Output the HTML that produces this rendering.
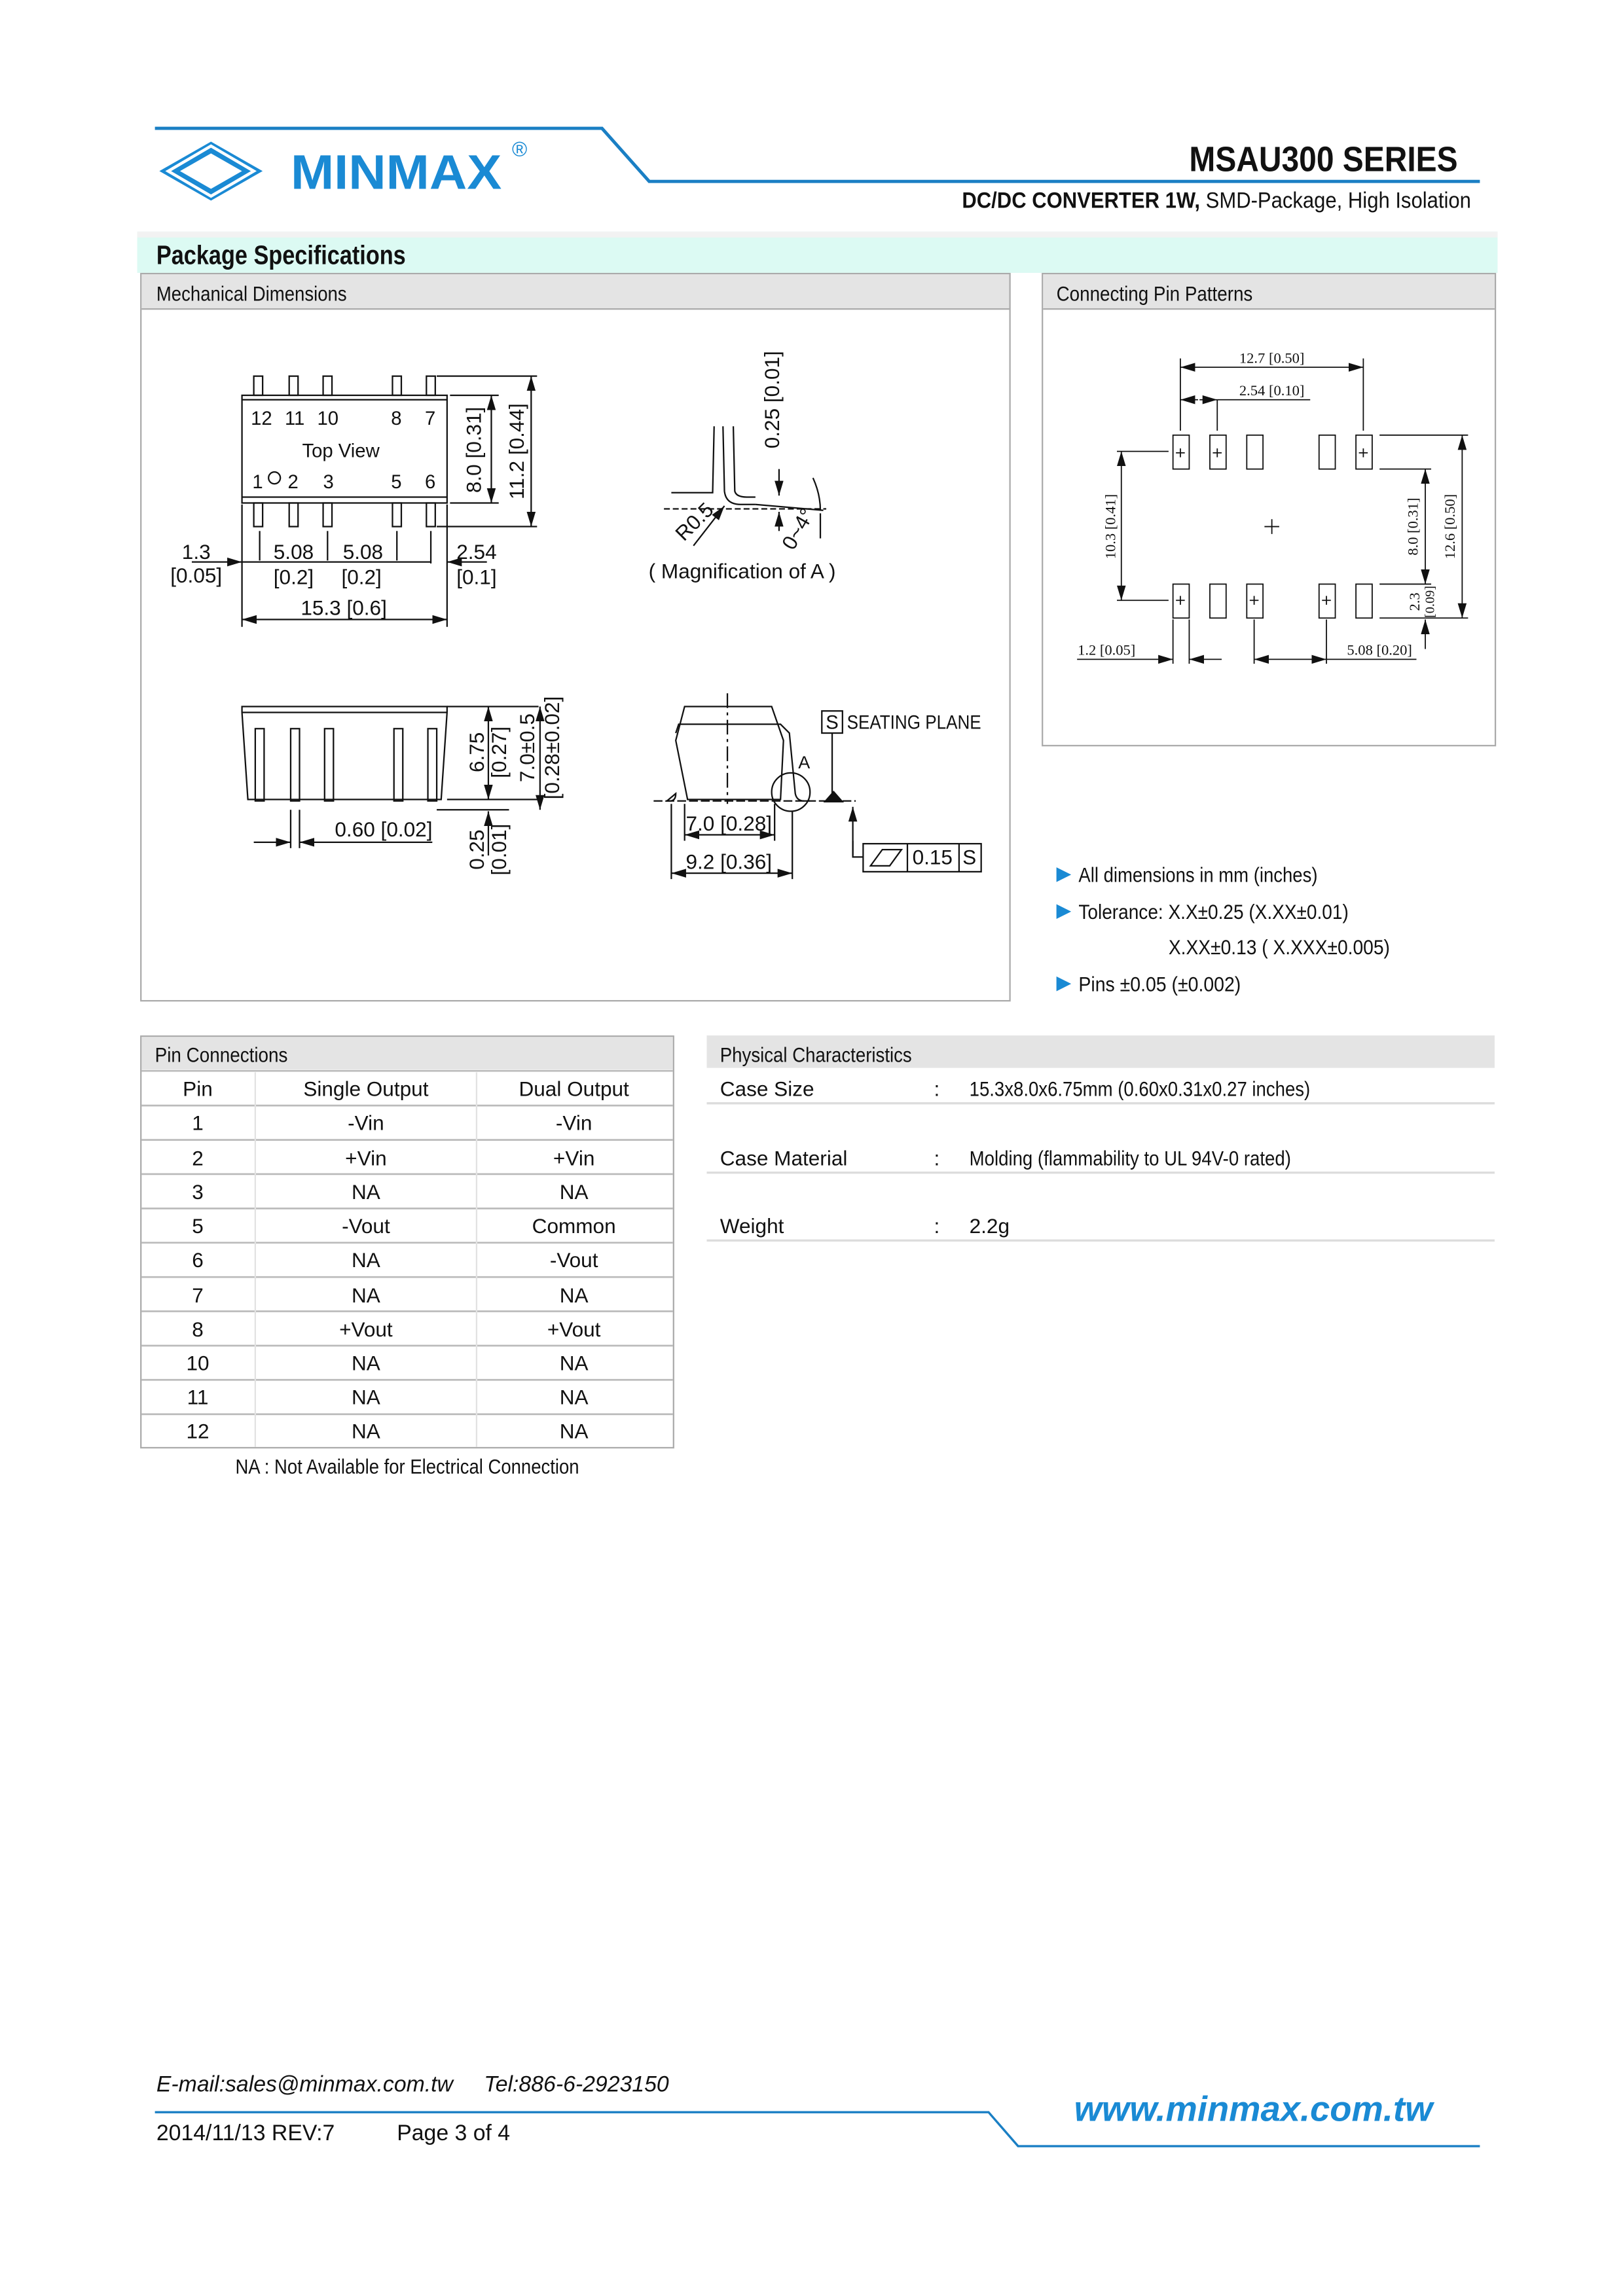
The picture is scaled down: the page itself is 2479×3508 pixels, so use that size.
<!DOCTYPE html>
<html><head><meta charset="utf-8"><style>
html,body{margin:0;padding:0;background:#fff}
svg{display:block}
text{font-family:"Liberation Sans",sans-serif;fill:#111}
</style></head><body>
<svg width="2479" height="3508" viewBox="0 0 1100 1556.6" preserveAspectRatio="none" xmlns="http://www.w3.org/2000/svg">
<defs>
<marker id="a" viewBox="0 0 10 6" refX="10" refY="3" markerWidth="10" markerHeight="6" orient="auto-start-reverse" markerUnits="userSpaceOnUse"><path d="M0,0L10,3L0,6z" fill="#111"/></marker>
</defs>
<!-- header -->
<polyline points="105,87 408,87 440,123 1003,123" fill="none" stroke="#1a7fc4" stroke-width="2.2"/>
<g fill="#1a8ad4">
<path d="M108,116 L143,96 L178,116 L143,136 Z M122,116 L143,104 L164,116 L143,128 Z" fill-rule="evenodd"/>
<path d="M114,116 L143,99 L172,116 L143,133Z" fill="none" stroke="#fff" stroke-width="2"/>
</g>
<text x="197" y="128" font-size="33" font-weight="bold" style="fill:#1a8ad4" textLength="143" lengthAdjust="spacingAndGlyphs">MINMAX</text>
<text x="347" y="106" font-size="14" style="fill:#1a8ad4">®</text>
<text x="988" y="116" font-size="24" font-weight="bold" text-anchor="end" textLength="182" lengthAdjust="spacingAndGlyphs">MSAU300 SERIES</text>
<text x="997" y="141" font-size="15" text-anchor="end" textLength="345" lengthAdjust="spacingAndGlyphs"><tspan font-weight="bold">DC/DC CONVERTER 1W,</tspan> SMD-Package, High Isolation</text>
<!-- package band -->
<rect x="93" y="157" width="922" height="28" fill="#dcfaf3"/>
<rect x="93" y="157" width="922" height="4" fill="#f2f2f2"/>
<text x="106" y="179" font-size="18" font-weight="bold" textLength="169" lengthAdjust="spacingAndGlyphs">Package Specifications</text>
<!-- panels -->
<rect x="95.5" y="185.5" width="589" height="493" fill="#fff" stroke="#aaa"/>
<rect x="96" y="186" width="588" height="23" fill="#e4e4e4"/>
<line x1="96" y1="209.5" x2="684" y2="209.5" stroke="#aaa"/>
<text x="106" y="204" font-size="14" textLength="129" lengthAdjust="spacingAndGlyphs">Mechanical Dimensions</text>
<rect x="706.5" y="185.5" width="307" height="320" fill="#fff" stroke="#aaa"/>
<rect x="707" y="186" width="306" height="23" fill="#e4e4e4"/>
<line x1="707" y1="209.5" x2="1013" y2="209.5" stroke="#aaa"/>
<text x="716" y="204" font-size="14" textLength="133" lengthAdjust="spacingAndGlyphs">Connecting Pin Patterns</text>

<g stroke="#111" stroke-width="1" fill="none">
<!-- top view -->
<rect x="164" y="268" width="139" height="73"/>
<line x1="164" y1="271" x2="303" y2="271"/><line x1="164" y1="337" x2="303" y2="337"/>
<rect x="172" y="255" width="6" height="13"/><rect x="196" y="255" width="6" height="13"/><rect x="219" y="255" width="6" height="13"/><rect x="266" y="255" width="6" height="13"/><rect x="289" y="255" width="6" height="13"/>
<rect x="172" y="341" width="6" height="16"/><rect x="196" y="341" width="6" height="16"/><rect x="219" y="341" width="6" height="16"/><rect x="266" y="341" width="6" height="16"/><rect x="289" y="341" width="6" height="16"/>
<circle cx="186" cy="324" r="4"/>
<line x1="305" y1="268" x2="338" y2="268"/><line x1="305" y1="341" x2="338" y2="341"/>
<line x1="296" y1="255" x2="364" y2="255"/><line x1="296" y1="357" x2="364" y2="357"/>
<line x1="333" y1="268" x2="333" y2="341" marker-start="url(#a)" marker-end="url(#a)"/>
<line x1="360" y1="255" x2="360" y2="357" marker-start="url(#a)" marker-end="url(#a)"/>
<line x1="164" y1="342" x2="164" y2="425"/><line x1="303" y1="342" x2="303" y2="425"/>
<line x1="176" y1="360" x2="176" y2="380"/><line x1="222" y1="360" x2="222" y2="380"/><line x1="269" y1="360" x2="269" y2="380"/><line x1="292" y1="360" x2="292" y2="382"/>
<line x1="130" y1="381" x2="164" y2="381" marker-end="url(#a)"/>
<line x1="164" y1="381" x2="292" y2="381"/>
<line x1="330" y1="381" x2="303" y2="381" marker-end="url(#a)"/>
<line x1="164" y1="420" x2="303" y2="420" marker-start="url(#a)" marker-end="url(#a)"/>
<!-- magnification -->
<polyline points="455,334 483,334 484,289"/>
<path d="M490,289 L491,333 Q492,342 502,342 L512,342"/>
<path d="M497,289 L498,333 Q499,337 506,337 L512,337"/>
<line x1="512" y1="342" x2="558" y2="346"/>
<line x1="450" y1="345" x2="560" y2="345" stroke-dasharray="4,2"/>
<line x1="528" y1="318" x2="528" y2="336" marker-end="url(#a)"/>
<line x1="528" y1="360" x2="528" y2="347" marker-end="url(#a)"/>
<line x1="470" y1="370" x2="491" y2="343" marker-end="url(#a)"/>
<path d="M551,324 Q556,335 556,346"/>
<line x1="556" y1="365" x2="556" y2="348"/>
<!-- side view -->
<path d="M164,479 L303,479 L303,483 L299,542 L168,542 L164,483 Z"/>
<line x1="164" y1="483" x2="303" y2="483"/>
<rect x="173" y="494" width="6" height="49"/><rect x="197" y="494" width="6" height="49"/><rect x="220" y="494" width="6" height="49"/><rect x="267" y="494" width="6" height="49"/><rect x="290" y="494" width="6" height="49"/>
<line x1="303" y1="479" x2="365" y2="479"/><line x1="303" y1="542" x2="365" y2="542"/>
<line x1="296" y1="549" x2="345" y2="549"/>
<line x1="331" y1="479" x2="331" y2="542" marker-start="url(#a)" marker-end="url(#a)"/>
<line x1="366" y1="479" x2="366" y2="549" marker-start="url(#a)" marker-end="url(#a)"/>
<line x1="331" y1="580" x2="331" y2="550" marker-end="url(#a)"/>
<line x1="197" y1="549" x2="197" y2="575"/><line x1="203" y1="549" x2="203" y2="575"/>
<line x1="172" y1="571" x2="197" y2="571" marker-end="url(#a)"/>
<line x1="293" y1="571" x2="203" y2="571" marker-end="url(#a)"/>
<!-- end view -->
<path d="M464,479 L523,479 L531,502 L529,542 L466,542 L458,502 Z"/>
<path d="M458,497 L460,491 L529,491 L535,497 L539,538 Q540,543 545,543 L549,543 M452,543 L454,543 Q458,543 458,538 Z" />
<line x1="493" y1="470" x2="493" y2="545" stroke-dasharray="10,3,2,3"/>
<line x1="443" y1="543" x2="580" y2="543" stroke-dasharray="6,2"/>
<circle cx="536" cy="537" r="13"/>
<line x1="564" y1="497" x2="564" y2="538"/>
<line x1="578" y1="580" x2="578" y2="547" marker-end="url(#a)"/>
<polyline points="578,570 578,581 585,581"/>
<line x1="464" y1="545" x2="464" y2="570"/><line x1="525" y1="545" x2="525" y2="570"/>
<line x1="455" y1="545" x2="455" y2="596"/><line x1="537" y1="550" x2="537" y2="596"/>
<line x1="464" y1="566" x2="525" y2="566" marker-start="url(#a)" marker-end="url(#a)"/>
<line x1="455" y1="592" x2="537" y2="592" marker-start="url(#a)" marker-end="url(#a)"/>
<rect x="557" y="482" width="14" height="15"/>
<rect x="585" y="572" width="80" height="19"/>
<line x1="615" y1="572" x2="615" y2="591"/><line x1="650" y1="572" x2="650" y2="591"/>
<path d="M590,587 L598,576 L611,576 L603,587 Z"/>
</g>
<path d="M558,544 L565,536 L572,544Z" fill="#111"/>
<g font-size="13">
<text x="170" y="288">12</text><text x="193" y="288">11</text><text x="215" y="288">10</text><text x="265" y="288">8</text><text x="288" y="288">7</text>
<text x="231" y="310" text-anchor="middle">Top View</text>
<text x="171" y="331">1</text><text x="195" y="331">2</text><text x="219" y="331">3</text><text x="265" y="331">5</text><text x="288" y="331">6</text>
</g>
<g font-size="14" text-anchor="middle">
<text x="133" y="379">1.3</text><text x="133" y="395">[0.05]</text>
<text x="199" y="379">5.08</text><text x="199" y="396">[0.2]</text>
<text x="246" y="379">5.08</text><text x="245" y="396">[0.2]</text>
<text x="323" y="379">2.54</text><text x="323" y="396">[0.1]</text>
<text x="233" y="417">15.3 [0.6]</text>
<text transform="translate(326,305) rotate(-90)">8.0 [0.31]</text>
<text transform="translate(355,306) rotate(-90)">11.2 [0.44]</text>
<text transform="translate(528,271) rotate(-90)">0.25 [0.01]</text>
<text transform="translate(474,357) rotate(-45)">R0.5</text>
<text transform="translate(545,361) rotate(-60)">0~4°</text>
<text x="503" y="392">( Magnification of A )</text>
<text transform="translate(328,510) rotate(-90)">6.75</text>
<text transform="translate(343,510) rotate(-90)">[0.27]</text>
<text transform="translate(362,507) rotate(-90)">7.0±0.5</text>
<text transform="translate(379,507) rotate(-90)">[0.28±0.02]</text>
<text transform="translate(328,576) rotate(-90)">0.25</text>
<text transform="translate(343,576) rotate(-90)">[0.01]</text>
<text x="260" y="567">0.60 [0.02]</text>
<text x="494" y="563">7.0 [0.28]</text>
<text x="494" y="589">9.2 [0.36]</text>
<text x="632" y="586">0.15</text><text x="657" y="586">S</text>
<text x="564" y="494" font-size="13">S</text>
</g>
<text x="574" y="494" font-size="13" textLength="91" lengthAdjust="spacingAndGlyphs">SEATING PLANE</text>
<text x="541" y="521" font-size="12">A</text>

<!-- pin pattern -->
<g stroke="#111" stroke-width="0.8" fill="none">
<rect x="795" y="295" width="11" height="23"/><rect x="820" y="295" width="11" height="23"/><rect x="845" y="295" width="11" height="23"/><rect x="894" y="295" width="11" height="23"/><rect x="919" y="295" width="11" height="23"/>
<rect x="795" y="396" width="11" height="23"/><rect x="820" y="396" width="11" height="23"/><rect x="845" y="396" width="11" height="23"/><rect x="894" y="396" width="11" height="23"/><rect x="919" y="396" width="11" height="23"/>
<path d="M797,307h6M800,304v6M822,307h6M825,304v6M921,307h6M924,304v6M797,407h6M800,404v6M847,407h6M850,404v6M896,407h6M899,404v6M857,357h10M862,352v10"/>
<line x1="800" y1="243" x2="800" y2="292"/><line x1="924" y1="243" x2="924" y2="292"/><line x1="825" y1="271" x2="825" y2="292"/>
<line x1="800" y1="249" x2="924" y2="249" marker-start="url(#a)" marker-end="url(#a)"/>
<line x1="800" y1="271" x2="812" y2="271" marker-start="url(#a)"/><line x1="813" y1="271" x2="825" y2="271" marker-end="url(#a)"/>
<line x1="825" y1="271" x2="888" y2="271"/>
<line x1="757" y1="306" x2="792" y2="306"/><line x1="757" y1="407" x2="792" y2="407"/>
<line x1="760" y1="306" x2="760" y2="407" marker-start="url(#a)" marker-end="url(#a)"/>
<line x1="935" y1="295" x2="995" y2="295"/><line x1="935" y1="318" x2="970" y2="318"/><line x1="935" y1="396" x2="970" y2="396"/><line x1="935" y1="419" x2="995" y2="419"/>
<line x1="966" y1="318" x2="966" y2="396" marker-start="url(#a)" marker-end="url(#a)"/>
<line x1="991" y1="295" x2="991" y2="419" marker-start="url(#a)" marker-end="url(#a)"/>
<line x1="966" y1="440" x2="966" y2="420" marker-end="url(#a)"/>
<line x1="795" y1="420" x2="795" y2="450"/><line x1="806" y1="420" x2="806" y2="450"/><line x1="850" y1="420" x2="850" y2="450"/><line x1="899" y1="420" x2="899" y2="450"/>
<line x1="730" y1="447" x2="795" y2="447" marker-end="url(#a)"/><line x1="828" y1="447" x2="806" y2="447" marker-end="url(#a)"/>
<line x1="850" y1="447" x2="899" y2="447" marker-start="url(#a)" marker-end="url(#a)"/>
<line x1="899" y1="447" x2="960" y2="447"/>
</g>
<g font-size="10" text-anchor="middle">
<text x="862" y="246" style="font-family:'Liberation Serif',serif">12.7 [0.50]</text>
<text x="862" y="268" style="font-family:'Liberation Serif',serif">2.54 [0.10]</text>
<text transform="translate(756,357) rotate(-90)" style="font-family:'Liberation Serif',serif">10.3 [0.41]</text>
<text transform="translate(961,357) rotate(-90)" style="font-family:'Liberation Serif',serif">8.0 [0.31]</text>
<text transform="translate(986,357) rotate(-90)" style="font-family:'Liberation Serif',serif">12.6 [0.50]</text>
<text transform="translate(962,408) rotate(-90)" style="font-family:'Liberation Serif',serif">2.3</text>
<text transform="translate(972,408) rotate(-90)" font-size="9" style="font-family:'Liberation Serif',serif">[0.09]</text>
<text x="750" y="444" style="font-family:'Liberation Serif',serif">1.2 [0.05]</text>
<text x="935" y="444" style="font-family:'Liberation Serif',serif">5.08 [0.20]</text>
</g>
<!-- notes -->
<g font-size="14">
<path d="M716,588l10,5l-10,5z M716,613l10,5l-10,5z M716,662l10,5l-10,5z" fill="#1a8ad4"/>
<text x="731" y="598" textLength="162" lengthAdjust="spacingAndGlyphs">All dimensions in mm (inches)</text>
<text x="731" y="623" textLength="183" lengthAdjust="spacingAndGlyphs">Tolerance: X.X±0.25 (X.XX±0.01)</text>
<text x="792" y="647" textLength="150" lengthAdjust="spacingAndGlyphs">X.XX±0.13 ( X.XXX±0.005)</text>
<text x="731" y="672" textLength="110" lengthAdjust="spacingAndGlyphs">Pins ±0.05 (±0.002)</text>
</g>
<!-- pin connections -->
<rect x="95.5" y="702.5" width="361" height="279" fill="#fff" stroke="#aaa"/>
<rect x="96" y="703" width="360" height="22" fill="#e4e4e4"/>
<text x="105" y="720" font-size="14" textLength="90" lengthAdjust="spacingAndGlyphs">Pin Connections</text>
<g stroke="#bbb" stroke-width="1.2">
<line x1="96" y1="726" x2="456" y2="726"/>
<line x1="96" y1="749.5" x2="456" y2="749.5"/><line x1="96" y1="772.8" x2="456" y2="772.8"/><line x1="96" y1="796" x2="456" y2="796"/><line x1="96" y1="819.3" x2="456" y2="819.3"/><line x1="96" y1="842.5" x2="456" y2="842.5"/><line x1="96" y1="865.8" x2="456" y2="865.8"/><line x1="96" y1="889" x2="456" y2="889"/><line x1="96" y1="912.3" x2="456" y2="912.3"/><line x1="96" y1="935.5" x2="456" y2="935.5"/><line x1="96" y1="958.8" x2="456" y2="958.8"/>
</g>
<g stroke="#e2e2e2"><line x1="173" y1="727" x2="173" y2="981"/><line x1="323" y1="727" x2="323" y2="981"/></g>
<g font-size="14" text-anchor="middle">
<text x="134" y="743">Pin</text><text x="248" y="743">Single Output</text><text x="389" y="743">Dual Output</text>
<text x="134" y="766">1</text><text x="248" y="766">-Vin</text><text x="389" y="766">-Vin</text>
<text x="134" y="790">2</text><text x="248" y="790">+Vin</text><text x="389" y="790">+Vin</text>
<text x="134" y="813">3</text><text x="248" y="813">NA</text><text x="389" y="813">NA</text>
<text x="134" y="836">5</text><text x="248" y="836">-Vout</text><text x="389" y="836">Common</text>
<text x="134" y="859">6</text><text x="248" y="859">NA</text><text x="389" y="859">-Vout</text>
<text x="134" y="883">7</text><text x="248" y="883">NA</text><text x="389" y="883">NA</text>
<text x="134" y="906">8</text><text x="248" y="906">+Vout</text><text x="389" y="906">+Vout</text>
<text x="134" y="929">10</text><text x="248" y="929">NA</text><text x="389" y="929">NA</text>
<text x="134" y="952">11</text><text x="248" y="952">NA</text><text x="389" y="952">NA</text>
<text x="134" y="975">12</text><text x="248" y="975">NA</text><text x="389" y="975">NA</text>
<text x="276" y="999" textLength="233" lengthAdjust="spacingAndGlyphs">NA : Not Available for Electrical Connection</text>
</g>
<!-- physical -->
<rect x="479" y="702" width="534" height="22" fill="#e4e4e4"/>
<text x="488" y="720" font-size="14" textLength="130" lengthAdjust="spacingAndGlyphs">Physical Characteristics</text>
<g stroke="#ddd" stroke-width="1.5"><line x1="479" y1="748" x2="1013" y2="748"/><line x1="479" y1="795" x2="1013" y2="795"/><line x1="479" y1="841" x2="1013" y2="841"/></g>
<g font-size="14">
<text x="488" y="743">Case Size</text><text x="633" y="743">:</text><text x="657" y="743" textLength="231" lengthAdjust="spacingAndGlyphs">15.3x8.0x6.75mm (0.60x0.31x0.27 inches)</text>
<text x="488" y="790">Case Material</text><text x="633" y="790">:</text><text x="657" y="790" textLength="218" lengthAdjust="spacingAndGlyphs">Molding (flammability to UL 94V-0 rated)</text>
<text x="488" y="836">Weight</text><text x="633" y="836">:</text><text x="657" y="836">2.2g</text>
</g>
<!-- footer -->
<text x="106" y="1418" font-size="15" font-style="italic">E-mail:sales@minmax.com.tw</text>
<text x="328" y="1418" font-size="15" font-style="italic">Tel:886-6-2923150</text>
<polyline points="105,1432 670,1432 690,1455 1003,1455" fill="none" stroke="#1a7fc4" stroke-width="1.5"/>
<text x="728" y="1438" font-size="24" font-weight="bold" font-style="italic" style="fill:#1a8ad4" textLength="243" lengthAdjust="spacingAndGlyphs">www.minmax.com.tw</text>
<text x="106" y="1451" font-size="15">2014/11/13 REV:7</text>
<text x="269" y="1451" font-size="15">Page 3 of 4</text>
</svg>
</body></html>
